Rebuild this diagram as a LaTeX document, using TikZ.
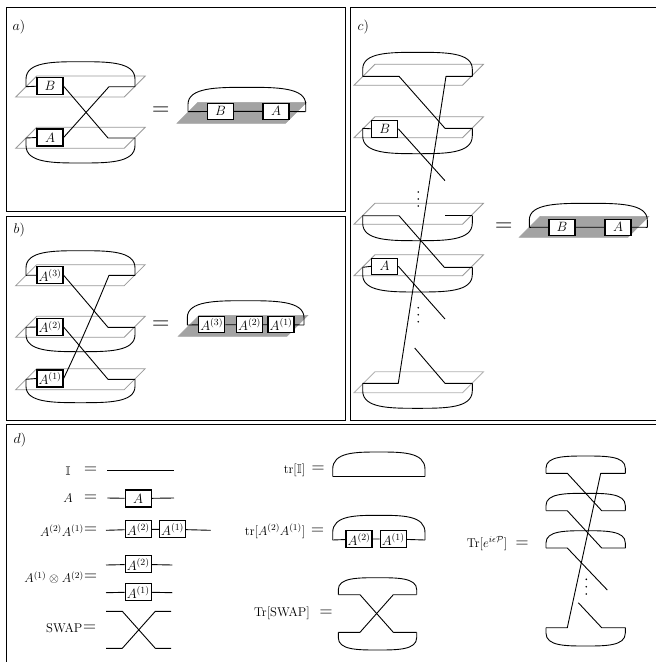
\RequirePackage{fix-cm}
\documentclass[tikz,border=0pt]{standalone}
\usepackage{amssymb}
\newcommand{\Lp}[4]{% xl xr level peak
  \draw[wire] (#1,#3) -- ({#1},{#3-0.3*(#3-#4)})
    .. controls ({#1},{#4}) and ({#1+0.25*(#2-#1)},{#4}) .. ({0.5*(#1+#2)},{#4})
    .. controls ({#2-0.25*(#2-#1)},{#4}) and ({#2},{#4}) .. ({#2},{#3-0.3*(#3-#4)})
    -- (#2,#3);}
\newcommand{\Pl}[3][plane]{% x of bottom-left, y of top edge
  \draw[#1] (#2,#3+21) -- (#2+21,#3) -- (#2+129.5,#3) -- (#2+108.5,#3+21) -- cycle;}
\newcommand{\FS}[1]{\fontsize{#1}{#1}\selectfont}
\tikzset{
  wire/.style={black,line width=0.9pt,line join=round},
  plane/.style={draw=black!40,line width=0.8pt},
  fplane/.style={draw=black!36,fill=black!36,line width=0.6pt},
  qbox/.style={draw=black,fill=white,line width=1.2pt,minimum width=26pt,minimum height=17pt,inner sep=0pt,font=\FS{13.5}},
  frame/.style={draw=black,line width=1pt},
  eqbig/.style={inner sep=0pt,font=\FS{24}},
  eqmid/.style={inner sep=0pt,font=\FS{18}},
  lab/.style={inner sep=0pt,font=\FS{12.7}},
  tag/.style={inner sep=0pt,font=\FS{14},anchor=west},
  dotm/.style={fill=black,circle,inner sep=0pt,minimum size=1.8pt}
}
\begin{document}
\begin{tikzpicture}[x=1pt,y=-1pt]
\clip (0,0) rectangle (656,662);
\fill[white] (0,0) rectangle (656,662);
% frames
\draw[frame] (6.5,7.5) rectangle (345,211.5);
\draw[frame] (6.5,216) rectangle (345,420.5);
\draw[frame] (660,7.5) -- (350,7.5) -- (350,420) -- (660,420);
\draw[frame] (660,424) -- (6.5,424) -- (6.5,666);
\node[tag] (tagA) at (12.5,27) {$a)$};
\node[tag] (tagB) at (13.5,229.5) {$b)$};
\node[tag] (tagC) at (357.5,27) {$c)$};
\node[tag] (tagD) at (13.5,439.5) {$d)$};

% ---------- panel a
\Pl{15.7}{76}
\Pl{15.7}{127.3}
\node[qbox] (aB) at (50,86.2) {$B$};
\node[qbox] (aA) at (50,137.5) {$A$};
\Lp{26}{135}{86.7}{61.7}
\Lp{26}{135}{138}{163}
\coordinate (a1) at (26,86.7); \coordinate (a2) at (135,86.7); \coordinate (a3) at (109,86.7);
\coordinate (a4) at (26,138); \coordinate (a5) at (135,138); \coordinate (a6) at (108,138);
\draw[wire] (a1) -- (aB.west);
\draw[wire] (a4) -- (aA.west);
\draw[wire] (a2) -- (a3) -- (aA.east);
\draw[wire] (a5) -- (a6) -- (aB.east);
\node[eqbig] (eqA) at (160.7,111.5) {$=$};
\Pl[fplane]{177}{102.3}
\Lp{188}{305.7}{111.7}{87.3}
\node[qbox,minimum height=16pt] (aB2) at (220.5,111.3) {$B$};
\node[qbox,minimum height=16pt] (aA2) at (276,111.3) {$A$};
\coordinate (a7) at (188,111.7); \coordinate (a8) at (305.7,111.7);
\draw[wire] (a7) -- (aB2) -- (aA2) -- (a8);

% ---------- panel b
\Pl{15.7}{264.7}
\Pl{15.7}{316.3}
\Pl{15.7}{368.7}
\node[qbox] (b3) at (50,275.2) {$A^{(3)}$};
\node[qbox] (b2) at (50,327) {$A^{(2)}$};
\node[qbox] (b1) at (50,378.5) {$A^{(1)}$};
\Lp{26}{135}{275.3}{250.7}
\Lp{26}{135}{327.3}{351.7}
\Lp{26}{135}{379.3}{402.7}
\coordinate (bl3) at (26,275.3); \coordinate (br3) at (135,275.3); \coordinate (be3) at (109,275.3);
\coordinate (bl2) at (26,327.3); \coordinate (br2) at (135,327.3); \coordinate (be2) at (108,327.3);
\coordinate (bl1) at (26,379.3); \coordinate (br1) at (135,379.3); \coordinate (be1) at (108,379.3);
\draw[wire] (bl3) -- (b3.west);
\draw[wire] (bl2) -- (b2.west);
\draw[wire] (bl1) -- (b1.west);
\draw[wire] (br3) -- (be3) .. controls (98,302) and (82,340) .. (b1.east);
\draw[wire] (b3.east) -- (be2) -- (br2);
\draw[wire] (b2.east) -- (be1) -- (br1);
\node[eqbig] (eqB) at (160.7,325) {$=$};
\Pl[fplane]{178.3}{315.3}
\Lp{187.3}{304}{325}{300.7}
\node[qbox,minimum height=16pt] (b32) at (211.7,324.7) {$A^{(3)}$};
\node[qbox,minimum height=16pt] (b22) at (249.5,324.7) {$A^{(2)}$};
\node[qbox,minimum height=16pt] (b12) at (281,324.7) {$A^{(1)}$};
\coordinate (b7) at (187.3,325); \coordinate (b8) at (304,325);
\draw[wire] (b7) -- (b32) -- (b22) -- (b12) -- (b8);

% ---------- panel c
\Pl{354}{64.3}
\Pl{354}{116.7}
\Pl{354}{203.3}
\Pl{354}{254.7}
\Pl[plane,draw=black!30]{354}{371.7}
\node[qbox] (cB) at (384.7,128.8) {$B$};
\node[qbox,minimum height=16pt] (cA) at (384.7,266.3) {$A$};
\Lp{362.7}{472.3}{76.3}{52.3}
\Lp{362.7}{472.3}{128.3}{153.7}
\Lp{362.7}{472.3}{215.7}{240.7}
\Lp{362.7}{472.3}{267.3}{292}
\Lp{362.7}{472.3}{383.3}{408.3}
\coordinate (c1l) at (362.7,76.3); \coordinate (c1m) at (399,76.3);
\coordinate (c1r) at (472.3,76.3); \coordinate (c1n) at (446,76.3);
\coordinate (c2l) at (362.7,128.3); \coordinate (c2m) at (445,128.3); \coordinate (c2r) at (472.3,128.3);
\coordinate (cBe) at (445,180.7);
\coordinate (c3l) at (362.7,215.7); \coordinate (c3m) at (399,215.7);
\coordinate (c3r) at (472.3,215.7); \coordinate (c3n) at (445,215.7);
\coordinate (c4l) at (362.7,267.3); \coordinate (c4m) at (444.3,267.3); \coordinate (c4r) at (472.3,267.3);
\coordinate (cAe) at (445,319);
\coordinate (c5l) at (362.7,383.3); \coordinate (c5m) at (398.3,383.3);
\coordinate (c5r) at (472.3,383.3); \coordinate (c5n) at (445,383.3); \coordinate (c5e) at (414.7,348);
\draw[wire] (c1l) -- (c1m) -- (c2m) -- (c2r);
\draw[wire] (c2l) -- (cB.west);
\draw[wire] (cB.east) -- (cBe);
\draw[wire] (c1r) -- (c1n) -- (c5m) -- (c5l);
\draw[wire] (c3r) -- (c3n);
\draw[wire] (c3l) -- (c3m) -- (c4m) -- (c4r);
\draw[wire] (c4l) -- (cA.west);
\draw[wire] (cA.east) -- (cAe);
\draw[wire] (c5r) -- (c5n) -- (c5e);
\foreach \n/\y in {1/192,2/199,3/206,4/307.7,5/314.7,6/321.7}
  \node[dotm] (cd\n) at (418.3,\y) {};
\node[eqbig] (eqC) at (503.7,227.5) {$=$};
\Pl[fplane]{519.3}{216.3}
\Lp{529.3}{647.3}{227.3}{203.3}
\node[qbox,minimum height=16pt] (cB2) at (562,227.2) {$B$};
\node[qbox,minimum height=16pt] (cA2) at (618,227.2) {$A$};
\coordinate (c7) at (529.3,227.3); \coordinate (c8) at (647.3,227.3);
\draw[wire] (c7) -- (cB2) -- (cA2) -- (c8);

% ---------- panel d, left column
\node[lab] (dI) at (68,470.7) {$\mathbb{I}$};
\node[eqmid] (de1) at (90.7,470.3) {$=$};
\coordinate (d1a) at (107.3,470.7); \coordinate (d1b) at (174,470.7);
\draw[wire] (d1a) -- (d1b);
\node[lab] (dA) at (68,498.3) {$A$};
\node[eqmid] (de2) at (90.7,498) {$=$};
\coordinate (d2a) at (107.3,498); \coordinate (d2b) at (174,498);
\node[qbox] (d2box) at (138.2,498.5) {$A$};
\draw[wire] (d2a) -- (d2box) -- (d2b);
\node[lab,anchor=east] (dAA) at (84,530.5) {$A^{(2)}A^{(1)}$};
\node[eqmid] (de3) at (90.7,530.5) {$=$};
\coordinate (d3a) at (106,530.3); \coordinate (d3b) at (210.7,530.3);
\node[qbox] (d3x) at (138.3,529.3) {$A^{(2)}$};
\node[qbox] (d3y) at (172.5,529.3) {$A^{(1)}$};
\draw[wire] (d3a) -- (d3x) -- (d3y) -- (d3b);
\node[lab,anchor=east] (dAoA) at (84,577.7) {$A^{(1)}\otimes A^{(2)}$};
\node[eqmid] (de4) at (90.7,577.7) {$=$};
\coordinate (d4a) at (106,565); \coordinate (d4b) at (172.3,565);
\coordinate (d5a) at (106,592.7); \coordinate (d5b) at (172.3,592.7);
\node[qbox] (d4x) at (138.2,564.3) {$A^{(2)}$};
\node[qbox] (d5x) at (138.2,592) {$A^{(1)}$};
\draw[wire] (d4a) -- (d4x) -- (d4b);
\draw[wire] (d5a) -- (d5x) -- (d5b);
\node[lab,anchor=east] (dS) at (82.5,628.3) {$\mathrm{SWAP}$};
\node[eqmid] (de5) at (89.5,628) {$=$};
\coordinate (s1) at (106,611.3); \coordinate (s2) at (122.3,611.3); \coordinate (s3) at (155.3,648.3); \coordinate (s4) at (171,648.3);
\coordinate (s5) at (106,648.3); \coordinate (s6) at (122.3,648.3); \coordinate (s7) at (155.3,611.3); \coordinate (s8) at (171,611.3);
\draw[wire] (s1) -- (s2) -- (s3) -- (s4);
\draw[wire] (s5) -- (s6) -- (s7) -- (s8);

% ---------- panel d, middle column
\node[lab,anchor=east] (dt1) at (305.5,470) {$\mathrm{tr}[\mathbb{I}]$};
\node[eqmid] (de6) at (318,469.7) {$=$};
\Lp{332.7}{425}{476.7}{452}
\coordinate (t1a) at (332.7,476.7); \coordinate (t1b) at (425,476.7);
\draw[wire] (t1a) -- (t1b);
\node[lab,anchor=east] (dt2) at (305.5,531) {$\mathrm{tr}[A^{(2)}A^{(1)}]$};
\node[eqmid] (de7) at (317.5,531) {$=$};
\Lp{332.7}{425}{540}{515.3}
\node[qbox] (t2x) at (359,539) {$A^{(2)}$};
\node[qbox] (t2y) at (393.2,539) {$A^{(1)}$};
\coordinate (t2a) at (332.7,540); \coordinate (t2b) at (425,540);
\draw[wire] (t2a) -- (t2x) -- (t2y) -- (t2b);
\node[lab,anchor=east] (dt3) at (310,613.5) {$\mathrm{Tr}[\mathrm{SWAP}]$};
\node[eqmid] (de8) at (326,613.5) {$=$};
\Lp{338.3}{416.7}{594.7}{577.7}
\Lp{338.3}{416.7}{632.3}{650}
\coordinate (u1) at (338.3,594.7); \coordinate (u2) at (360,594.7); \coordinate (u3) at (393.3,632.3); \coordinate (u4) at (416.7,632.3);
\coordinate (u5) at (338.3,632.3); \coordinate (u6) at (360,632.3); \coordinate (u7) at (393.3,594.7); \coordinate (u8) at (416.7,594.7);
\draw[wire] (u1) -- (u2) -- (u3) -- (u4);
\draw[wire] (u5) -- (u6) -- (u7) -- (u8);

% ---------- panel d, right column
\node[lab,anchor=east] (dt4) at (507.5,543.5) {$\mathrm{Tr}[e^{i\epsilon\mathcal{P}}]$};
\node[eqmid] (de9) at (522,544) {$=$};
\Lp{546}{625.3}{473.3}{456}
\Lp{546}{625.3}{510.7}{493.3}
\Lp{546}{625.3}{548}{530.7}
\Lp{546}{625.3}{627.7}{646}
\coordinate (v1) at (546,473.3); \coordinate (v2) at (567.3,473.3); \coordinate (v3) at (601.7,510.7); \coordinate (v4) at (625.3,510.7);
\coordinate (v5) at (546,510.7); \coordinate (v6) at (567.3,510.7); \coordinate (v7) at (601.7,548); \coordinate (v8) at (625.3,548);
\coordinate (v9) at (546,548); \coordinate (v10) at (567.3,548); \coordinate (v11) at (607.3,590);
\coordinate (w1) at (546,627.7); \coordinate (w2) at (567.3,627.7); \coordinate (w3) at (600.7,473.3); \coordinate (w4) at (625.3,473.3);
\coordinate (w5) at (578.3,602.7); \coordinate (w6) at (601.7,627.7); \coordinate (w7) at (625.3,627.7);
\draw[wire] (v1) -- (v2) -- (v3) -- (v4);
\draw[wire] (v5) -- (v6) -- (v7) -- (v8);
\draw[wire] (v9) -- (v10) -- (v11);
\draw[wire] (w1) -- (w2) -- (w3) -- (w4);
\draw[wire] (w5) -- (w6) -- (w7);
\foreach \n/\y in {1/579.3,2/586.7,3/594}
  \node[dotm] (dd\n) at (586.3,\y) {};
\end{tikzpicture}
\end{document}
